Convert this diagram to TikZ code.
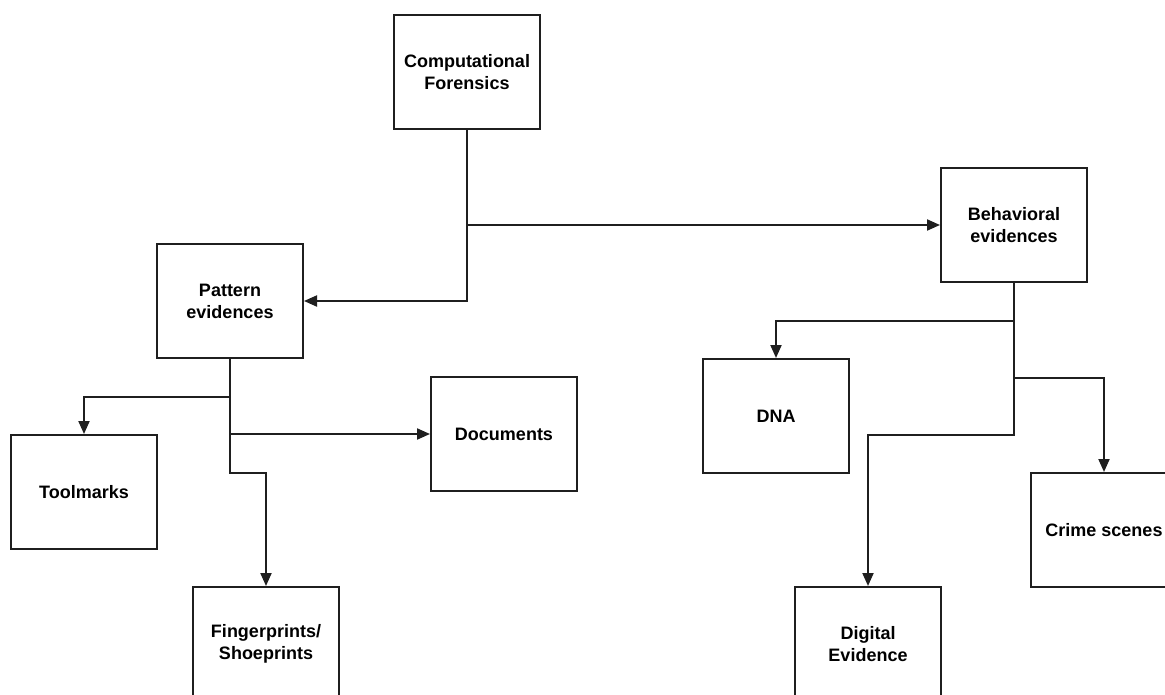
\documentclass[tikz,border=0pt]{standalone}
\usepackage{fontspec}
\setmainfont{Liberation Sans}
\usetikzlibrary{arrows.meta}
\begin{document}
\begin{tikzpicture}[x=1pt,y=-1pt,
  box/.style={draw=black!88, line width=2pt, fill=white, minimum width=146pt, minimum height=114pt,
    inner sep=0pt, align=center, font=\fontsize{18}{22}\selectfont\bfseries},
  conn/.style={draw=black!88, line width=2pt},
  arr/.style={conn, -{Triangle[length=13pt,width=11pt]}}]
\clip (0,0) rectangle (1165,695);
\fill[white] (0,0) rectangle (1165,695);
\node[box] (cf) at (467,72) {Computational\\Forensics};
\node[box] (pat) at (230,301) {Pattern\\evidences};
\node[box] (beh) at (1014,225) {Behavioral\\evidences};
\node[box] (tool) at (84,492) {Toolmarks};
\node[box] (doc) at (504,434) {Documents};
\node[box] (dna) at (776,416) {DNA};
\node[box] (crime) at (1104,530) {Crime scenes};
\node[box] (fing) at (266,644) {Fingerprints/\\Shoeprints};
\node[box] (dig) at (868,644) {Digital\\Evidence};
% Computational Forensics
\draw[arr] (cf.south) |- (pat.east);
\draw[arr] (cf.south |- beh.west) -- (beh.west);
% Pattern evidences
\draw[arr] (pat.south) -- (pat.south |- 0,473) -| (fing.north);
\draw[arr] (pat.south |- 0,397) -| (tool.north);
\draw[arr] (pat.south |- doc.west) -- (doc.west);
% Behavioral evidences
\draw[arr] (beh.south) -- (beh.south |- 0,435) -| (dig.north);
\draw[arr] (beh.south |- 0,321) -| (dna.north);
\draw[arr] (beh.south |- 0,378) -| (crime.north);
\end{tikzpicture}
\end{document}
